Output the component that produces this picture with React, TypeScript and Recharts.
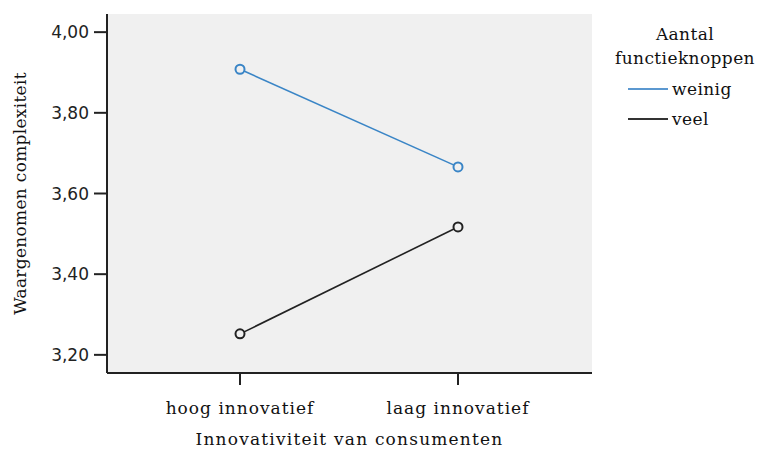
import React from 'react';
import { LineChart, Line, XAxis, YAxis, CartesianGrid } from 'recharts';

const categories = ['hoog innovatief', 'laag innovatief'];
const weinigValues = [3.908, 3.666];
const veelValues = [3.252, 3.517];
const yTicks = [3.2, 3.4, 3.6, 3.8, 4.0];
const seriesNames = ['weinig', 'veel'];
const seriesColors = ['#3a85c6', '#222222'];
const legendColors = ['#5b98d0', '#333333'];
const legendTitle = ['Aantal', 'functieknoppen'];

const data = categories.map((c, i) => ({ cat: c, weinig: weinigValues[i], veel: veelValues[i] }));

const SERIF = '"DejaVu Serif", serif';
const SANS = '"DejaVu Sans", sans-serif';

const LegendBlock = () => (
  <div style={{ position: 'absolute', left: 600, top: 22, width: 170, fontFamily: SERIF, fontSize: 17, letterSpacing: 0.4, color: '#111', lineHeight: '24px' }}>
    <div style={{ textAlign: 'center' }}>{legendTitle[0]}</div>
    <div style={{ textAlign: 'center', marginBottom: 4 }}>{legendTitle[1]}</div>
    {seriesNames.map((n, i) => (
      <div key={n} style={{ display: 'flex', alignItems: 'center', marginLeft: 28, height: 30 }}>
        <div style={{ width: 40, height: 2, background: legendColors[i], marginRight: 4 }} />
        <span>{n}</span>
      </div>
    ))}
  </div>
);

export default function App() {
  return (
    <div style={{ position: 'absolute', left: 0, top: 0, width: 769, height: 452, background: '#fff' }}>
      <LineChart width={769} height={452} data={data} margin={{ top: 14, right: 177, bottom: 0, left: 0 }}>
        <CartesianGrid fill="#f0f0f0" horizontal={false} vertical={false} />
        <XAxis
          xAxisId="top"
          dataKey="cat"
          orientation="top"
          height={0}
          tick={false}
          tickLine={false}
          axisLine={{ stroke: '#8c8c8c', strokeWidth: 1.5 }}
        />
        <YAxis
          yAxisId="right"
          orientation="right"
          width={0}
          domain={[3.155, 4.045]}
          tick={false}
          tickLine={false}
          axisLine={{ stroke: '#8c8c8c', strokeWidth: 1.5 }}
        />
        <XAxis
          dataKey="cat"
          height={79}
          padding={{ left: 133, right: 134 }}
          axisLine={{ stroke: '#222', strokeWidth: 2 }}
          tickLine={{ stroke: '#222', strokeWidth: 2 }}
          tickSize={12}
          tickMargin={17}
          tick={{ fontFamily: SERIF, fontSize: 17, letterSpacing: 1, fill: '#111' }}
          label={{ value: 'Innovativiteit van consumenten', position: 'insideBottom', offset: 7, style: { fontFamily: SERIF, fontSize: 17, letterSpacing: 1.2, fill: '#111' } }}
        />
        <YAxis
          type="number"
          domain={[3.155, 4.045]}
          ticks={yTicks}
          width={107}
          allowDataOverflow
          axisLine={{ stroke: '#222', strokeWidth: 2 }}
          tickLine={{ stroke: '#222', strokeWidth: 2 }}
          tickSize={13}
          tickMargin={5}
          tickFormatter={(v: number) => v.toFixed(2).replace('.', ',')}
          tick={{ fontFamily: SANS, fontSize: 17, fill: '#222' }}
          label={{ value: 'Waargenomen complexiteit', angle: -90, position: 'insideLeft', offset: 20, style: { textAnchor: 'middle', fontFamily: SERIF, fontSize: 17, letterSpacing: 0.3, fill: '#111' } }}
        />
        {seriesNames.map((n, i) => (
          <Line
            key={n}
            dataKey={n}
            stroke={seriesColors[i]}
            strokeWidth={1.6}
            isAnimationActive={false}
            dot={{ r: 4.5, fill: '#f0f0f0', stroke: seriesColors[i], strokeWidth: 2 }}
            activeDot={false}
          />
        ))}
      </LineChart>
      <LegendBlock />
    </div>
  );
}
